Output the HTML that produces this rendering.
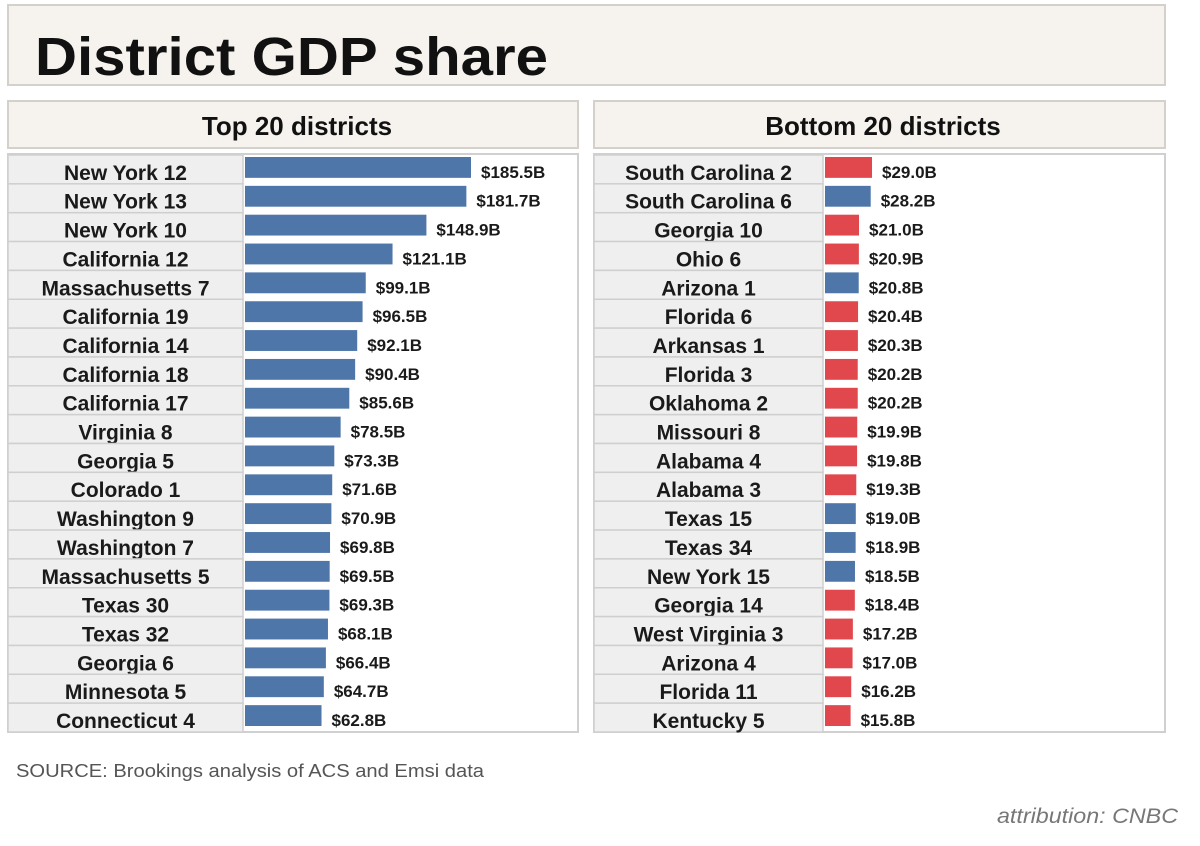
<!DOCTYPE html>
<html><head><meta charset="utf-8"><style>
body{margin:0;background:#fff;}
svg{display:block;font-family:"Liberation Sans",sans-serif;}
</style></head><body>
<svg id="chart" width="1200" height="846" viewBox="0 0 1200 846">
<rect x="8" y="5" width="1157" height="80" fill="#f6f2ee" stroke="#d4d0cc" stroke-width="2"/>
<text x="35" y="75" font-size="54" font-weight="bold" textLength="513" lengthAdjust="spacingAndGlyphs" fill="#111">District GDP share</text>
<rect x="8" y="101" width="570" height="47" fill="#f6f2ee" stroke="#d4d0cc" stroke-width="2"/>
<text x="297" y="135" font-size="26" font-weight="bold" text-anchor="middle" fill="#111">Top 20 districts</text>
<rect x="594" y="101" width="571" height="47" fill="#f6f2ee" stroke="#d4d0cc" stroke-width="2"/>
<text x="883" y="135" font-size="26" font-weight="bold" text-anchor="middle" fill="#111">Bottom 20 districts</text>
<g id="left"></g>
<g id="right"></g>
<text x="16" y="777" font-size="18" fill="#555" textLength="468" lengthAdjust="spacingAndGlyphs">SOURCE: Brookings analysis of ACS and Emsi data</text>
<text x="997" y="823" font-size="21" font-style="italic" fill="#777" textLength="181" lengthAdjust="spacingAndGlyphs">attribution: CNBC</text>
</svg>
<script>
const topNames=["New York 12","New York 13","New York 10","California 12","Massachusetts 7","California 19","California 14","California 18","California 17","Virginia 8","Georgia 5","Colorado 1","Washington 9","Washington 7","Massachusetts 5","Texas 30","Texas 32","Georgia 6","Minnesota 5","Connecticut 4"];
const topValues=[185.5,181.7,148.9,121.1,99.1,96.5,92.1,90.4,85.6,78.5,73.3,71.6,70.9,69.8,69.5,69.3,68.1,66.4,64.7,62.8];
const bottomNames=["South Carolina 2","South Carolina 6","Georgia 10","Ohio 6","Arizona 1","Florida 6","Arkansas 1","Florida 3","Oklahoma 2","Missouri 8","Alabama 4","Alabama 3","Texas 15","Texas 34","New York 15","Georgia 14","West Virginia 3","Arizona 4","Florida 11","Kentucky 5"];
const bottomValues=[29.0,28.2,21.0,20.9,20.8,20.4,20.3,20.2,20.2,19.9,19.8,19.3,19.0,18.9,18.5,18.4,17.2,17.0,16.2,15.8];
const bottomParty=["R","D","R","R","D","R","R","R","R","R","R","R","D","D","D","R","R","R","R","R"];
const NS="http://www.w3.org/2000/svg";
function mk(tag,attrs,parent){const e=document.createElementNS(NS,tag);for(const k in attrs)e.setAttribute(k,attrs[k]);parent.appendChild(e);return e;}
function panel(g,x0,w,labelW,names,values,colors,scale,pfx){
  const y0=155,h=577,rh=h/names.length;
  const box=mk('rect',{x:x0,y:y0-1,width:w,height:h+1,fill:'#fff',stroke:'#d0d0d0','stroke-width':2},g);
  
  
  const bx=x0+labelW+2;
  names.forEach((n,i)=>{
    const y=y0+i*rh;
    const lb=mk('rect',{x:x0,y:y,width:labelW,height:rh,fill:'#efefef',stroke:'#cfcfcf','stroke-width':1.5},g);
    
    
    const t=mk('text',{x:x0+labelW/2,y:y+rh-4,'font-size':21,'font-weight':'bold','text-anchor':'middle',fill:'#1a1a1a'},g);
    t.textContent=n;
    
    
    const bw=values[i]*scale;
    const b=mk('rect',{x:bx,y:y+2,width:bw,height:rh-8,fill:colors[i]},g);
    
    
    const v=mk('text',{x:bx+bw+10,y:y+rh-6,'font-size':17,'font-weight':'bold',fill:'#1a1a1a'},g);
    v.textContent='$'+values[i].toFixed(1)+'B';
    
    
  });
}
panel(document.getElementById('left'),8,570,235,topNames,topValues,topValues.map(()=>'#4e76a8'),226/185.5,'top');
panel(document.getElementById('right'),594,571,229,bottomNames,bottomValues,bottomParty.map(p=>p==='D'?'#4e76a8':'#e0484d'),47/29,'bottom');
</script>
</body></html>
